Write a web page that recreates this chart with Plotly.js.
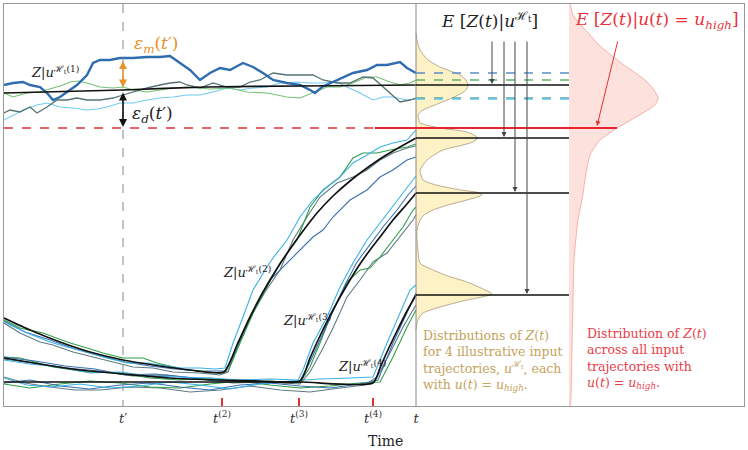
<!DOCTYPE html>
<html><head><meta charset="utf-8">
<script src="https://cdn.plot.ly/plotly-3.0.1.min.js"></script>
<style>html,body{margin:0;padding:0;background:#fff}#chart{width:748px;height:450px}</style>
</head><body><div id="chart"></div>
<script>
// ---------------- data ----------------
const tickVals = [123, 222, 299, 373, 416];
const tickText = ['<i>t</i>′', '<i>t</i><sup>(2)</sup>', '<i>t</i><sup>(3)</sup>', '<i>t</i><sup>(4)</sup>', '<i>t</i>'];
const switchTimes = [222, 299, 373];
const tPrime = 123, tNow = 416, distEnd = 569;
const uHighLevel = 128;

// group 1 (u stays high whole time)
const g1BlueX = [4,13,23,30,40,47,53,60,67,77,87,93,100,110,120,133,147,160,170,180,190,200,210,220,230,243,253,263,273,287,300,310,315,322,333,343,353,367,377,387,400,407,416];
const g1BlueY = [85,83,82,85,87,93,100,97,92,85,75,63,60,60,58,58,57,57,56,63,70,80,73,68,70,63,67,73,80,83,85,90,93,87,82,78,73,70,65,65,62,68,73];
const g1GreenX = [4,13,27,40,53,63,70,78,87,100,113,123,133,147,160,173,187,200,210,230,247,267,287,300,313,327,340,353,367,377,390,400,410,416];
const g1GreenY = [93,97,93,92,88,85,82,81,83,87,88,87,90,92,90,88,87,88,89,88,92,93,97,98,93,87,87,83,77,77,82,85,83,80];
const g1GreyX = [4,10,20,30,37,47,57,67,77,87,100,113,123,133,147,160,170,180,187,200,213,227,240,250,260,273,287,300,313,323,337,350,363,373,383,393,400,410,416];
const g1GreyY = [113,110,112,107,113,107,100,100,98,100,100,98,95,92,88,85,83,82,85,88,83,87,87,82,80,73,75,75,75,80,83,83,77,78,87,95,102,100,98];
const g1LightX = [4,13,23,37,47,60,73,87,97,107,120,133,147,160,173,187,200,213,227,240,253,267,280,297,310,323,337,347,360,373,383,393,407,416];
const g1LightY = [120,115,110,105,103,107,108,110,109,107,103,103,100,98,97,95,95,92,88,90,88,87,83,82,83,83,82,87,93,100,97,97,100,99];
const g1MeanX = [4,123,207,300,416];
const g1MeanY = [93,90,87,86,85];

// group 2 (switch at t(2))
const g2LightX = [4,27,50,67,87,107,127,147,160,180,200,215,225,233,243,253,267,273,287,300,313,327,340,353,367,380,393,407,416];
const g2LightY = [322,333,342,347,352,358,363,363,365,368,368,369,368,343,317,290,267,258,240,217,200,187,177,163,155,147,143,140,130];
const g2GreenX = [4,20,43,67,87,103,123,143,157,173,187,207,220,228,240,253,267,280,297,310,323,340,353,363,377,390,407,416];
const g2GreenY = [320,328,333,342,348,353,358,358,363,367,370,372,373,371,343,313,287,263,240,207,190,177,158,153,153,150,147,144];
const g2GreyX = [4,20,40,53,73,93,113,133,153,173,200,220,228,238,250,265,280,293,307,320,337,353,367,380,393,407,416];
const g2GreyY = [323,333,342,345,352,357,362,367,368,372,373,375,372,345,318,292,270,240,217,197,183,177,170,160,153,148,146];
const g2BlueX = [4,25,50,75,100,125,150,175,200,225,235,245,258,270,287,300,313,323,333,350,367,380,393,407,416];
const g2BlueY = [321,332,340,349,356,362,366,369,371,371,352,330,302,280,263,250,237,230,217,200,190,177,170,160,157];
const g2MeanX = [4,30,60,90,123,160,190,224,237,250,263,278,290,300,317,333,350,367,383,400,416];
const g2MeanY = [318,330,342,352,360,366,370,372,345,317,292,267,249,235,213,196,181,168,157,147,138];

// group 3 (switch at t(3))
const g3LightX = [4,30,60,90,120,150,180,210,240,270,298,303,313,327,340,353,367,380,393,403,413,416];
const g3LightY = [360,364,367,373,372,376,377,378,380,379,380,370,343,317,287,263,240,223,207,193,180,176];
const g3BlueX = [4,35,65,95,125,155,185,215,245,275,300,310,320,333,345,357,370,383,397,408,416];
const g3BlueY = [357,361,366,369,375,374,377,381,380,383,381,362,340,312,285,262,245,227,210,195,186];
const g3GreenX = [4,20,53,87,120,150,180,210,240,270,300,310,320,333,347,360,370,380,393,403,413,416];
const g3GreenY = [357,358,367,372,373,378,380,378,382,381,383,367,343,310,282,270,268,257,240,227,210,207];
const g3GreyX = [4,33,67,100,133,167,200,233,267,300,310,322,333,340,347,360,373,387,400,413,416];
const g3GreyY = [359,363,368,371,376,375,379,383,382,384,372,350,328,313,297,280,262,253,237,220,215];
const g3MeanX = [4,40,80,123,170,220,260,300,310,320,333,347,360,370,380,393,407,416];
const g3MeanY = [358,364,370,374,378,380,381,381,358,336,310,285,264,250,237,220,204,193];

// group 4 (switch at t(4))
const g4LightX = [4,27,50,80,110,140,170,200,230,260,290,320,350,373,387,400,410,416];
const g4LightY = [378,385,387,384,388,386,382,385,389,384,381,379,378,377,343,313,290,285];
const g4BlueX = [4,30,60,90,120,150,180,210,240,270,300,330,360,378,393,407,416];
const g4BlueY = [383,380,386,389,385,383,387,390,385,383,386,388,384,380,343,313,293];
const g4GreenX = [4,30,60,90,120,150,180,210,240,270,300,330,360,380,393,407,416];
const g4GreenY = [384,388,384,381,383,387,388,384,381,385,388,386,383,382,357,327,310];
const g4GreyX = [4,25,50,75,100,130,160,190,220,250,280,310,340,365,377,390,403,416];
const g4GreyY = [377,383,387,390,390,387,388,392,390,386,390,392,388,385,377,353,327,305];
const g4MeanX = [4,123,220,300,373,380,387,397,407,416];
const g4MeanY = [382,382,382,382,383,368,352,331,311,295];

// distributions at time t
const yellowZ = [33,40,50,60,67,75,80,85,90,93,98,103,110,115,120,123,128,132,138,143,150,155,160,170,175,180,185,190,193,195,200,205,210,215,220,230,240,250,263,270,276,282,288,294,297,300,307,313,318,323,330];
const yellowDensity = [0,1,4,12,24,44,50,52,50,46,36,24,7,2,3,4,24,51,62,54,27,18,11,4,5,7,20,45,64,66,51,32,17,8,4,1,1,2,4,17,32,51,65,76,66,51,24,7,3,1,0];
const redZ = [4,15,25,35,45,55,62,70,80,90,98,105,113,120,128,135,140,155,180,200,220,260,300,350,406];
const redDensity = [1,4,12,21,30,42,51,62,76,85,89,86,74,62,48,38,31,21,16,13,9,5,4,3,1];

// ---------------- styling ----------------
const C = {blue:'#3a70b0', light:'#3bb2e8', green:'#2e9e4a', grey:'#5f7a84'};
const C1 = {blue:'#2f6cb0', light:'#70cbef', green:'#74c274', grey:'#557373'};
const SERIF = 'DejaVu Serif, Liberation Serif, serif';

const traces = [];
function dens(base, zs, ds, fillc, linec){
  traces.push({type:'scatter', mode:'lines', x:[base].concat(ds.map(d=>base+d)).concat([base]),
    y:[zs[0]].concat(zs).concat([zs[zs.length-1]]), fill:'toself', fillcolor:fillc,
    line:{color:linec, width:0.8, shape:'spline', smoothing:0.6}, hoverinfo:'skip'});
}
dens(tNow, yellowZ, yellowDensity, '#fdf1c6', '#a89878');
dens(distEnd, redZ, redDensity, '#fde1dc', '#f3a19a');

function tr(x, y, color, w, shape){ traces.push({type:'scatter', mode:'lines', x:x, y:y,
  line:Object.assign({color:color, width:w}, shape||{}), hoverinfo:'skip'}); }

// lower groups
[[g4GreyX,g4GreyY,C.grey],[g4GreenX,g4GreenY,C.green],[g4BlueX,g4BlueY,C.blue],[g4LightX,g4LightY,C.light],
 [g3GreyX,g3GreyY,C.grey],[g3GreenX,g3GreenY,C.green],[g3BlueX,g3BlueY,C.blue],[g3LightX,g3LightY,C.light],
 [g2GreyX,g2GreyY,C.grey],[g2BlueX,g2BlueY,C.blue],[g2GreenX,g2GreenY,C.green],[g2LightX,g2LightY,C.light]
].forEach(a=>tr(a[0],a[1],a[2],1.1));
// group 1
tr(g1LightX,g1LightY,C1.light,1.1);
tr(g1GreenX,g1GreenY,C1.green,1.1);
tr(g1GreyX,g1GreyY,C1.grey,1.3);
tr(g1BlueX,g1BlueY,C1.blue,2.4);
// conditional means (smooth curves)
[[g1MeanX,g1MeanY],[g2MeanX,g2MeanY],[g3MeanX,g3MeanY],[g4MeanX,g4MeanY]].forEach(a=>{
  tr(a[0], a[1], '#111', 1.7, {shape:'spline', smoothing:0.6});
});

const shapes = [];
shapes.push({type:'line', x0:tNow, x1:tNow, y0:4, y1:406, line:{color:'#888', width:1}});
shapes.push({type:'line', x0:tPrime, x1:tPrime, y0:4, y1:406, line:{color:'#888', width:1, dash:'dash'}});
shapes.push({type:'line', x0:4, x1:375, y0:uHighLevel, y1:uHighLevel, line:{color:'#e0303a', width:1.3, dash:'dash'}});
shapes.push({type:'line', x0:375, x1:617, y0:uHighLevel, y1:uHighLevel, line:{color:'#e8242e', width:2}});
switchTimes.forEach(t=>shapes.push({type:'line', x0:t, x1:t, y0:398, y1:406, line:{color:'#e03030', width:2}}));
// group 1 trajectory end values continued as dashed lines
[[g1BlueY,'#5a8ec4'],[g1GreenY,'#5fb56a'],[g1GreyY,'#5aa69a'],[g1LightY,'#62c3ea']].forEach(a=>{
  const v = a[0][a[0].length-1];
  shapes.push({type:'line', x0:tNow, x1:distEnd, y0:v, y1:v, line:{color:a[1], width:1.3, dash:'dash'}});
});
// conditional means continued
[g1MeanY,g2MeanY,g3MeanY,g4MeanY].forEach(m=>{
  const v = m[m.length-1];
  shapes.push({type:'line', x0:tNow, x1:distEnd, y0:v, y1:v, line:{color:'#111', width:1.7}});
});

const ann = [];
function arrow(x0,y0,x1,y1,color,w,both){
  ann.push({x:x1, y:y1, ax:x0, ay:y0, xref:'x', yref:'y', axref:'x', ayref:'y', text:'', showarrow:true,
    arrowcolor:color, arrowwidth:w, arrowhead:2, arrowsize:1, arrowside: both?'end+start':'end', startarrowhead:2});
}
arrow(tPrime, 89, tPrime, 61, '#e8922a', 1.6, true);
arrow(tPrime, 91, tPrime, 127, '#111', 1.6, true);
const meanEnds = [g1MeanY,g2MeanY,g3MeanY,g4MeanY].map(m=>m[m.length-1]);
[492,504,515,527].forEach((x,i)=>arrow(x, 40, x, meanEnds[i]-1, '#444', 1, false));
arrow(618, 40, 597, uHighLevel-2, '#e8323a', 1, false);

function txt(x,y,s,size,color,xa,extra){
  ann.push(Object.assign({x:x, y:y, xref:'x', yref:'y', text:s, showarrow:false, xanchor:xa||'center', yanchor:'middle',
    font:{family:SERIF, size:size, color:color}}, extra||{}));
}
txt(132, 44, '<i>ε<sub>m</sub></i>(<i>t</i>′)', 17, '#e8922a', 'left');
txt(130, 114, '<i>ε<sub>d</sub></i>(<i>t</i>′)', 17, '#222', 'left');
txt(29, 72, '<i>Z</i>|<i>u</i><sup>ℋ<sub>t</sub>(1)</sup>', 13, '#222', 'left');
txt(221, 272, '<i>Z</i>|<i>u</i><sup>ℋ<sub>t</sub>(2)</sup>', 13, '#222', 'left');
txt(281, 320, '<i>Z</i>|<i>u</i><sup>ℋ<sub>t</sub>(3)</sup>', 13, '#222', 'left');
txt(336, 366, '<i>Z</i>|<i>u</i><sup>ℋ<sub>t</sub>(4)</sup>', 13, '#222', 'left');
txt(489, 20, '<i>E</i> [<i>Z</i>(<i>t</i>)|<i>u</i><sup>ℋ<sub>t</sub></sup>]', 17, '#222');
txt(657, 20, '<i>E</i> [<i>Z</i>(<i>t</i>)|<i>u</i>(<i>t</i>) = <i>u<sub>high</sub></i>]', 17, '#e8323a');
txt(421, 360, 'Distributions of <i>Z</i>(<i>t</i>)<br>for 4 illustrative input<br>trajectories, <i>u</i><sup>ℋ<sub>t</sub></sup>, each<br>with <i>u</i>(<i>t</i>) = <i>u<sub>high</sub></i>.', 12.5, '#c4a25c', 'left', {align:'left'});
txt(585, 358, 'Distribution of <i>Z</i>(<i>t</i>)<br>across all input<br>trajectories with<br><i>u</i>(<i>t</i>) = <i>u<sub>high</sub></i>.', 12.5, '#e8404a', 'left', {align:'left'});
ann.push({x:385, y:-0.087, xref:'x', yref:'paper', yanchor:'middle', text:'Time', showarrow:false, font:{family:SERIF, size:14, color:'#222'}});

const layout = {
  width:748, height:450, margin:{l:4, r:4, t:4, b:44}, showlegend:false,
  paper_bgcolor:'#fff', plot_bgcolor:'#fff',
  xaxis:{range:[4,744], showgrid:false, zeroline:false, showline:true, mirror:true, linecolor:'#999', linewidth:1,
    tickvals:tickVals, ticktext:tickText, ticks:'', tickfont:{family:SERIF, size:13, color:'#333'}},
  yaxis:{range:[406,4], showgrid:false, zeroline:false, showline:true, mirror:true, linecolor:'#999', linewidth:1,
    showticklabels:false, ticks:''},
  shapes:shapes, annotations:ann
};
Plotly.newPlot('chart', traces, layout, {staticPlot:true, displayModeBar:false});
</script></body></html>
